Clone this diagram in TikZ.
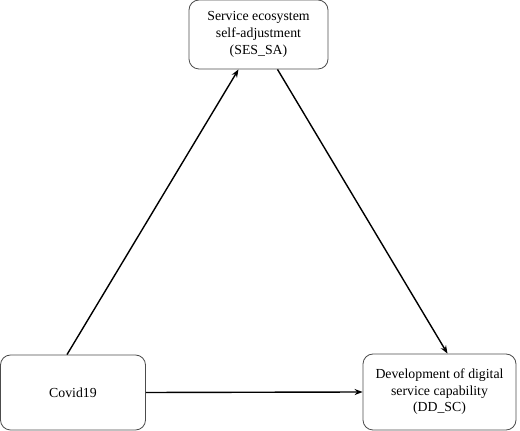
\documentclass[tikz,border=0pt]{standalone}
\usepackage{fontspec}
\setmainfont{Liberation Serif}
\usetikzlibrary{arrows.meta}
\begin{document}
\begin{tikzpicture}[x=1pt,y=1pt,
  box/.style={draw=black!70, line width=0.8pt, rounded corners=10pt, align=center,
    font=\fontsize{13.8}{16.6}\selectfont, inner sep=0pt},
  arr/.style={line width=1.4pt, -{Stealth[length=8pt,width=6pt]}}]
\useasboundingbox (0,0) rectangle (520,431);
\node[box, minimum width=139pt, minimum height=69pt] (ses) at (258.5,396.5)
  {Service ecosystem\\self-adjustment\\(SES\_SA)};
\node[box, minimum width=145pt, minimum height=75pt] (cov) at (73,38.5) {Covid19};
\node[box, minimum width=153pt, minimum height=76pt] (dd) at (439.5,39)
  {Development of digital\\service capability\\(DD\_SC)};
\draw[arr] ([xshift=-6pt]cov.north) -- ([xshift=-20pt]ses.south);
\draw[arr] ([xshift=19pt]ses.south) -- ([xshift=8pt]dd.north);
\draw[arr] (cov.east) -- (dd.west);
\end{tikzpicture}
\end{document}
